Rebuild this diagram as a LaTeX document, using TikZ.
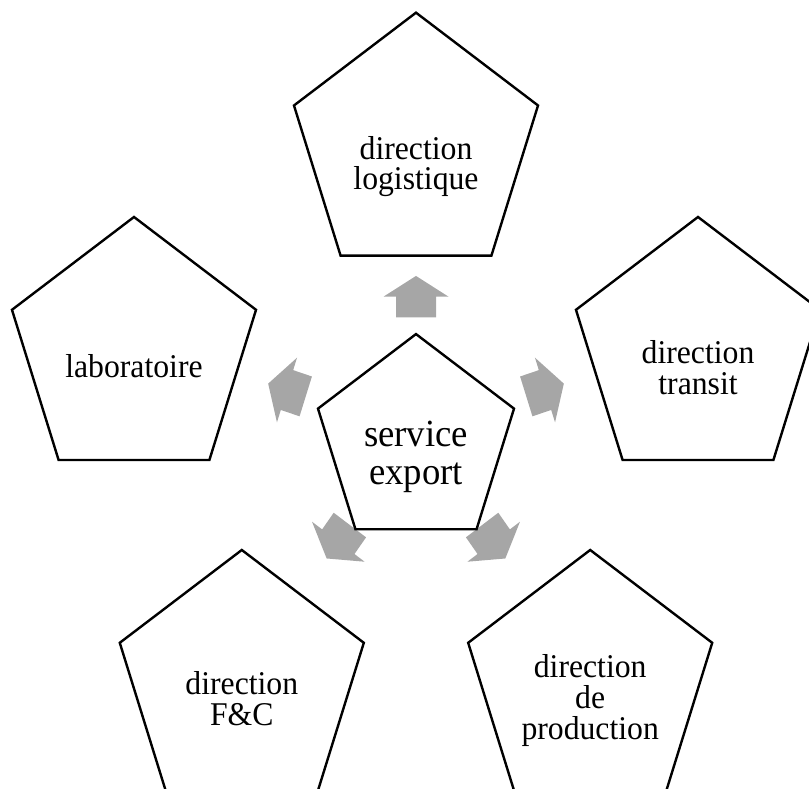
\documentclass[tikz,border=0pt]{standalone}
\usepackage{fontspec}
\setmainfont{Liberation Serif}
\usetikzlibrary{shapes.geometric}
\definecolor{arrowgray}{RGB}{166,166,166}

% gray block arrow: base point (middle of the head base) and direction angle
\newcommand\radarrow[2]{%
  \fill[blockarrow, shift={#1}, rotate=#2-90]
    (0,-19.8) -- (32.5,0) -- (20,0) -- (20,19.7) -- (-20,19.7) -- (-20,0) -- (-32.5,0) -- cycle;}

\begin{document}
\begin{tikzpicture}[x=1pt, y=-1pt, yscale=1.0468,
  every node/.style={transform shape},
  outerpent/.style={regular polygon, regular polygon sides=5, minimum size=256.6pt,
    inner sep=0pt, outer sep=0pt, draw=black, line width=2.4pt, fill=white},
  centerpent/.style={outerpent, minimum size=206.1pt},
  outertext/.style={align=center, inner sep=0pt, font=\fontsize{31.7pt}{29.3pt}\selectfont},
  centertext/.style={align=center, inner sep=0pt, font=\fontsize{36.7pt}{35.6pt}\selectfont},
  blockarrow/.style={fill=arrowgray}
]
\useasboundingbox (0,0) rectangle (809,753.7);

% arrows leaving the central service
\radarrow{(416,283.4)}{90}
\radarrow{(287,372.6)}{162}
\radarrow{(545,372.6)}{18}
\radarrow{(338.3,517.5)}{-126}
\radarrow{(493.7,517.5)}{-54}

% central pentagon
\node[centerpent] (srv) at (416,422.2) {};
\node[centertext] (srvt) at (416,436.5) {service\\export};

% surrounding pentagons
\node[outerpent] (logi) at (416,140.4) {};
\node[outertext] (logit) at (416,159.2) {direction\\logistique};

\node[outerpent] (labo) at (134,335.6) {};
\node[outertext] (labot) at (134,349.5) {laboratoire};

\node[outerpent] (tran) at (698,335.6) {};
\node[outertext] (trant) at (698,351.5) {direction\\transit};

\node[outerpent] (fc) at (241.8,653.7) {};
\node[outertext] (fct) at (241.8,667.6) {direction\\F\&C};

\node[outerpent] (prod) at (590.2,653.7) {};
\node[outertext] (prodt) at (590.2,669.3) {direction\\de\\production};
\end{tikzpicture}
\end{document}
